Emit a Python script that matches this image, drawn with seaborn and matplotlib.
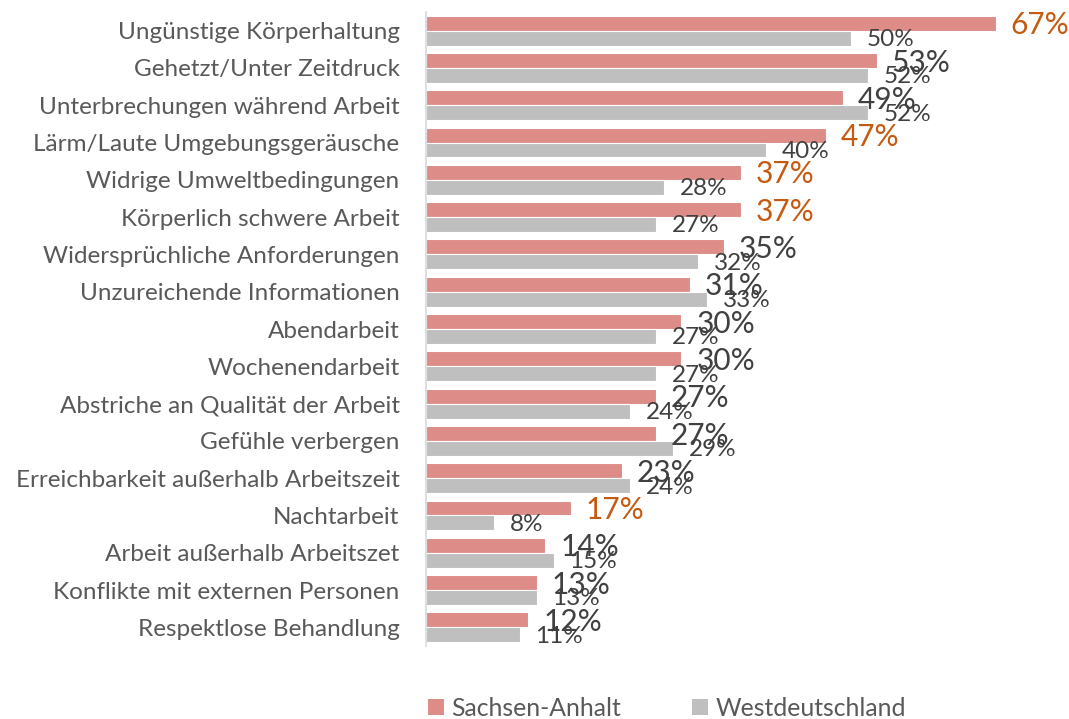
import matplotlib
matplotlib.use("Agg")
import matplotlib.pyplot as plt
import seaborn as sns
import pandas as pd
from matplotlib.patches import Patch

categories = [
    "Ungünstige Körperhaltung",
    "Gehetzt/Unter Zeitdruck",
    "Unterbrechungen während Arbeit",
    "Lärm/Laute Umgebungsgeräusche",
    "Widrige Umweltbedingungen",
    "Körperlich schwere Arbeit",
    "Widersprüchliche Anforderungen",
    "Unzureichende Informationen",
    "Abendarbeit",
    "Wochenendarbeit",
    "Abstriche an Qualität der Arbeit",
    "Gefühle verbergen",
    "Erreichbarkeit außerhalb Arbeitszeit",
    "Nachtarbeit",
    "Arbeit außerhalb Arbeitszet",
    "Konflikte mit externen Personen",
    "Respektlose Behandlung",
]
sachsen_anhalt = [67, 53, 49, 47, 37, 37, 35, 31, 30, 30, 27, 27, 23, 17, 14, 13, 12]
westdeutschland = [50, 52, 52, 40, 28, 27, 32, 33, 27, 27, 24, 29, 24, 8, 15, 13, 11]
highlighted = [True, False, False, True, True, True, False, False, False,
               False, False, False, False, True, False, False, False]
series_names = ["Sachsen-Anhalt", "Westdeutschland"]

RED = "#DE8C87"
GRAY = "#BFBFBF"
ORANGE = "#C55A11"
DARK = "#404040"
LABEL = "#595959"

df = pd.DataFrame({
    "Kategorie": categories * 2,
    "Anteil": sachsen_anhalt + westdeutschland,
    "Region": [series_names[0]] * len(categories) + [series_names[1]] * len(categories),
})

sns.set_theme(style="white")
plt.rcParams["font.family"] = ["Lato", "DejaVu Sans"]

fig = plt.figure(figsize=(10.69, 7.19), dpi=100)
ax = fig.add_axes([426 / 1069, 1 - 646 / 719, 634 / 1069, 634 / 719])

sns.barplot(data=df, x="Anteil", y="Kategorie", hue="Region", orient="h",
            palette=[RED, GRAY], saturation=1, width=0.8, ax=ax,
            edgecolor="white", linewidth=0.8, legend=False)

ax.set_xlim(0, 634 / 8.5)
ax.set_ylim(len(categories) - 0.5, -0.5)
ax.set_xlabel("")
ax.set_ylabel("")
ax.set_xticks([])
for s in ["top", "right", "bottom"]:
    ax.spines[s].set_visible(False)
ax.spines["left"].set_color("#D9D9D9")
ax.spines["left"].set_linewidth(1.2)
ax.tick_params(axis="y", length=0, pad=19, labelsize=17.5, labelcolor=LABEL)

red_c, gray_c = ax.containers[0], ax.containers[1]
for i, bar in enumerate(red_c):
    col = ORANGE if highlighted[i] else DARK
    ax.annotate(f"{sachsen_anhalt[i]}%", (bar.get_width(), bar.get_y() + bar.get_height() / 2),
                xytext=(11, -1.5), textcoords="offset points", ha="left", va="center",
                fontsize=21.5, color=col)
for i, bar in enumerate(gray_c):
    ax.annotate(f"{westdeutschland[i]}%", (bar.get_width(), bar.get_y() + bar.get_height() / 2),
                xytext=(11.5, -1), textcoords="offset points", ha="left", va="center",
                fontsize=17.5, color=DARK)

handles = [Patch(facecolor=RED, edgecolor="none"), Patch(facecolor=GRAY, edgecolor="none")]
fig.legend(handles, series_names, loc="center", bbox_to_anchor=(667 / 1069, 1 - 708 / 719),
           ncol=2, frameon=False, fontsize=17.8, labelcolor=LABEL,
           handlelength=0.62, handleheight=0.62, handletextpad=0.3, columnspacing=2.9)

fig.savefig("out.png", dpi=100)
